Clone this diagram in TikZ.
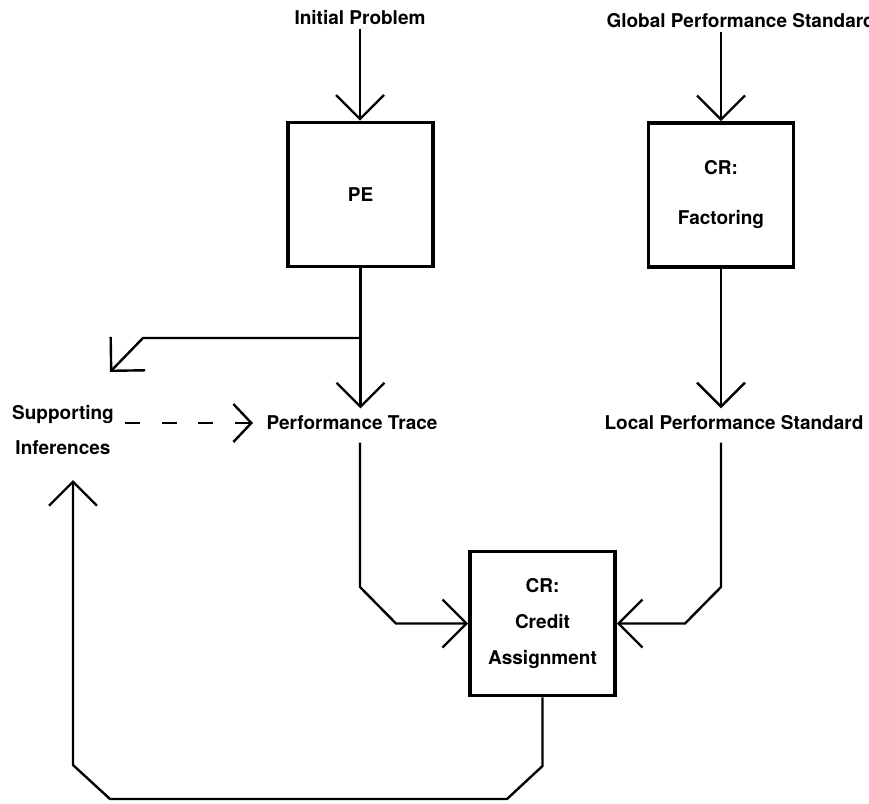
\documentclass[tikz,border=0pt]{standalone}
\usepackage{fontspec}
\setmainfont{TeX Gyre Heros}
\usetikzlibrary{arrows.meta}

\begin{document}
\begin{tikzpicture}[x=1pt,y=-1pt,
    box/.style={draw,line width=3.6pt,minimum width=145pt,minimum height=144pt,align=center,font=\fontsize{19}{23}\selectfont\bfseries},
    txt/.style={font=\fontsize{19}{23}\selectfont\bfseries,align=center},
    arr/.style={line width=2.4pt,-{Straight Barb[length=24pt,width=48pt]}}]

    \useasboundingbox (0,0) rectangle (869,803);

    % Draw the boxes
    \node[box] (pe) at (360.5,194.5) {PE};
    \node[box] (fact) at (721,195) {CR:\\[27pt]Factoring};
    \node[box] (credit) at (542.5,623.5) {CR:\\[13pt]Credit\\[13pt]Assignment};

    % Draw the labels
    \node[txt] (init) at (360,18) {Initial Problem};
    \node[txt,anchor=west] (gps) at (603,21) {Global Performance Standard};
    \node[txt] (pt) at (352,423) {Performance Trace};
    \node[txt] (lps) at (734,423) {Local Performance Standard};
    \node[txt] (si) at (63,430) {Supporting\\[12pt]Inferences};

    % Free ends
    \coordinate (br) at (360,338);
    \coordinate (brtip) at (110,372);
    \coordinate (siin) at (73,480);

    % Draw the arrows
    \draw[arr] (init.south) -- (init.south |- pe.north);
    \draw[arr] (gps.south -| fact.north) -- (fact.north);
    \draw[arr,shorten >=4pt] (pe.south) -- (pe.south |- pt.north);
    \draw[arr] (br) -- (143,338) -- (brtip);
    \draw[arr,shorten >=4pt] (fact.south) -- (fact.south |- lps.north);
    \draw[line width=2.4pt,dash pattern=on 15pt off 21.5pt,shorten <=8pt,shorten >=10pt,
        -{Straight Barb[length=18pt,width=38pt]}] (si.east |- pt.west) -- (pt.west);
    \draw[arr,shorten <=9pt] (br |- pt.south) -- (360,587) -- (396,623.5) -- (credit.west);
    \draw[arr,shorten <=9pt] (fact.south |- lps.south) -- (721,587) -- (685,623.5) -- (credit.east);
    \draw[arr] (credit.south) -- (542.5,766) -- (507,799) -- (110,799) -- (73,765) -- (siin);

\end{tikzpicture}
\end{document}
